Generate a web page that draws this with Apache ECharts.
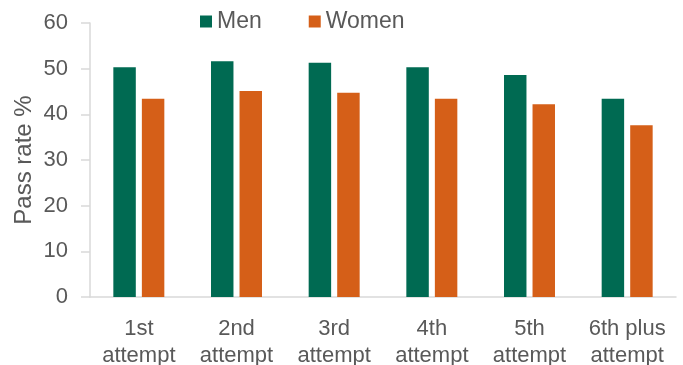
<!DOCTYPE html>
<html>
<head>
<meta charset="utf-8">
<script src="https://cdn.jsdelivr.net/npm/echarts@6/dist/echarts.min.js"></script>
<style>
  html, body { margin: 0; padding: 0; background: #ffffff; }
  #chart { width: 683px; height: 365px; }
</style>
</head>
<body>
<div id="chart"></div>
<script>
// Driving test pass rate by attempt number, split by sex
const categories = ['1st\nattempt', '2nd\nattempt', '3rd\nattempt', '4th\nattempt', '5th\nattempt', '6th plus\nattempt'];
const menRates = [50.3, 51.6, 51.3, 50.3, 48.6, 43.4];
const womenRates = [43.4, 45.1, 44.7, 43.4, 42.2, 37.6];
const yTicks = { min: 0, max: 60, interval: 10 };

const textColor = '#595959';
const fontFamily = '"Liberation Sans", Arial, sans-serif';

const chart = echarts.init(document.getElementById('chart'), null, { renderer: 'canvas' });
chart.setOption({
  animation: false,
  textStyle: { fontFamily: fontFamily, color: textColor },
  legend: {
    top: 10,
    left: 200,
    padding: 0,
    itemWidth: 12,
    itemHeight: 12,
    itemGap: 47,
    icon: 'rect',
    textStyle: { fontSize: 23, color: textColor, fontFamily: fontFamily, padding: [0, 0, 0, 0] },
    data: ['Men', 'Women']
  },
  grid: { left: 90, right: 7, top: 23, bottom: 68, containLabel: false, outerBoundsMode: 'none' },
  xAxis: {
    type: 'category',
    data: categories,
    axisLine: { lineStyle: { color: '#d9d9d9', width: 1.5 } },
    axisTick: { show: false },
    axisLabel: {
      color: textColor, fontSize: 22, fontFamily: fontFamily,
      lineHeight: 27, margin: 18, interval: 0
    }
  },
  yAxis: {
    type: 'value',
    min: yTicks.min,
    max: yTicks.max,
    interval: yTicks.interval,
    name: 'Pass rate %',
    nameLocation: 'middle',
    nameGap: 54,
    nameMoveOverlap: false,
    nameTextStyle: { color: textColor, fontSize: 24, fontFamily: fontFamily },
    axisLine: { show: true, lineStyle: { color: '#d9d9d9', width: 1.5 } },
    axisTick: { show: true, length: 9, lineStyle: { color: '#d9d9d9', width: 1.5 } },
    splitLine: { show: false },
    axisLabel: { color: textColor, fontSize: 22, fontFamily: fontFamily, margin: 22 }
  },
  series: [
    {
      name: 'Men',
      type: 'bar',
      data: menRates,
      barWidth: '23%',
      barGap: '27%',
      itemStyle: { color: '#006A52' }
    },
    {
      name: 'Women',
      type: 'bar',
      data: womenRates,
      barWidth: '23%',
      itemStyle: { color: '#D55F18' }
    }
  ]
});
</script>
</body>
</html>
